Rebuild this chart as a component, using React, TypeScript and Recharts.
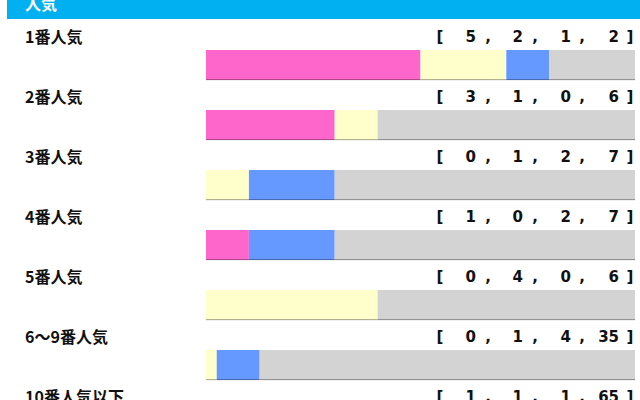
import React from 'react';
import { BarChart, Bar, XAxis, YAxis } from 'recharts';

const labels = ['1番人気', '2番人気', '3番人気', '4番人気', '5番人気', '6〜9番人気', '10番人気以下'];
const firstPlace = [5, 3, 0, 1, 0, 0, 1];
const secondPlace = [2, 1, 1, 0, 4, 1, 1];
const thirdPlace = [1, 0, 2, 2, 0, 4, 1];
const unplaced = [2, 6, 7, 7, 6, 35, 65];

const chartData = labels.map((name, i) => {
  const total = firstPlace[i] + secondPlace[i] + thirdPlace[i] + unplaced[i];
  return {
    name,
    first: firstPlace[i] / total,
    second: secondPlace[i] / total,
    third: thirdPlace[i] / total,
    other: unplaced[i] / total,
  };
});

const segments = [
  { key: 'first', color: '#ff66cc' },
  { key: 'second', color: '#ffffcc' },
  { key: 'third', color: '#6699ff' },
  { key: 'other', color: '#d3d3d3' },
];

// right edge of each count and centre of each comma in the "[ a, b, c, d ]" line
const countX = [476, 523, 571, 619];
const commaX = [488, 535, 582];

const FONT = "'Noto Sans CJK JP', 'Noto Sans', sans-serif";
const NUM_FONT = "'DejaVu Sans', sans-serif";

const RowTick = (props: any) => {
  const { y, payload } = props;
  const i = labels.indexOf(payload.value);
  const counts = [firstPlace[i], secondPlace[i], thirdPlace[i], unplaced[i]];
  const ty = y - 29;
  return (
    <g>
      <text x={25} y={ty} dominantBaseline="central" fontSize={16} fontWeight={700} fill="#111" fontFamily={FONT}>
        {payload.value}
      </text>
      <text x={440} y={ty + 1} dominantBaseline="central" textAnchor="middle" fontSize={15} fontWeight={700} fill="#111" fontFamily={NUM_FONT}>
        [
      </text>
      {counts.map((c, k) => (
        <text key={k} x={countX[k]} y={ty + 1} dominantBaseline="central" textAnchor="end" fontSize={15} fontWeight={700} fill="#111" fontFamily={NUM_FONT}>
          {c}
        </text>
      ))}
      {commaX.map((cx, k) => (
        <text key={'c' + k} x={cx} y={ty + 1} dominantBaseline="central" textAnchor="middle" fontSize={15} fontWeight={700} fill="#111" fontFamily={NUM_FONT}>
          ,
        </text>
      ))}
      <text x={630} y={ty + 1} dominantBaseline="central" textAnchor="middle" fontSize={15} fontWeight={700} fill="#111" fontFamily={NUM_FONT}>
        ]
      </text>
    </g>
  );
};

const Segment = (props: any) => {
  const { x, y, width, height, fill } = props;
  if (!width || width <= 0) return null;
  return (
    <g>
      <rect x={x} y={y} width={width} height={height} fill={fill} />
      <rect x={x} y={y + height - 1} width={width} height={1.2} fill="rgba(0,0,0,0.3)" />
    </g>
  );
};

export default function App() {
  return (
    <div style={{ position: 'absolute', left: 0, top: 0, width: 640, height: 400, overflow: 'hidden', background: '#fff' }}>
      <div style={{ position: 'absolute', left: 7, top: 0, width: 633, height: 19, background: '#00b0f0', overflow: 'hidden' }}>
        <div style={{ position: 'absolute', left: 18, top: -5, fontSize: 16, lineHeight: '16px', fontWeight: 700, color: '#fff', fontFamily: FONT }}>
          人気
        </div>
      </div>
      <div style={{ position: 'absolute', left: 0, top: 0 }}>
        <BarChart width={640} height={460} data={chartData} layout="vertical" margin={{ top: 35, right: 5, bottom: 5, left: 0 }} barSize={30}>
          <XAxis type="number" domain={[0, 1]} hide />
          <YAxis type="category" dataKey="name" width={206} axisLine={false} tickLine={false} tick={RowTick} interval={0} />
          {segments.map((s) => (
            <Bar key={s.key} dataKey={s.key} stackId="a" fill={s.color} shape={Segment} isAnimationActive={false} />
          ))}
        </BarChart>
      </div>
    </div>
  );
}
